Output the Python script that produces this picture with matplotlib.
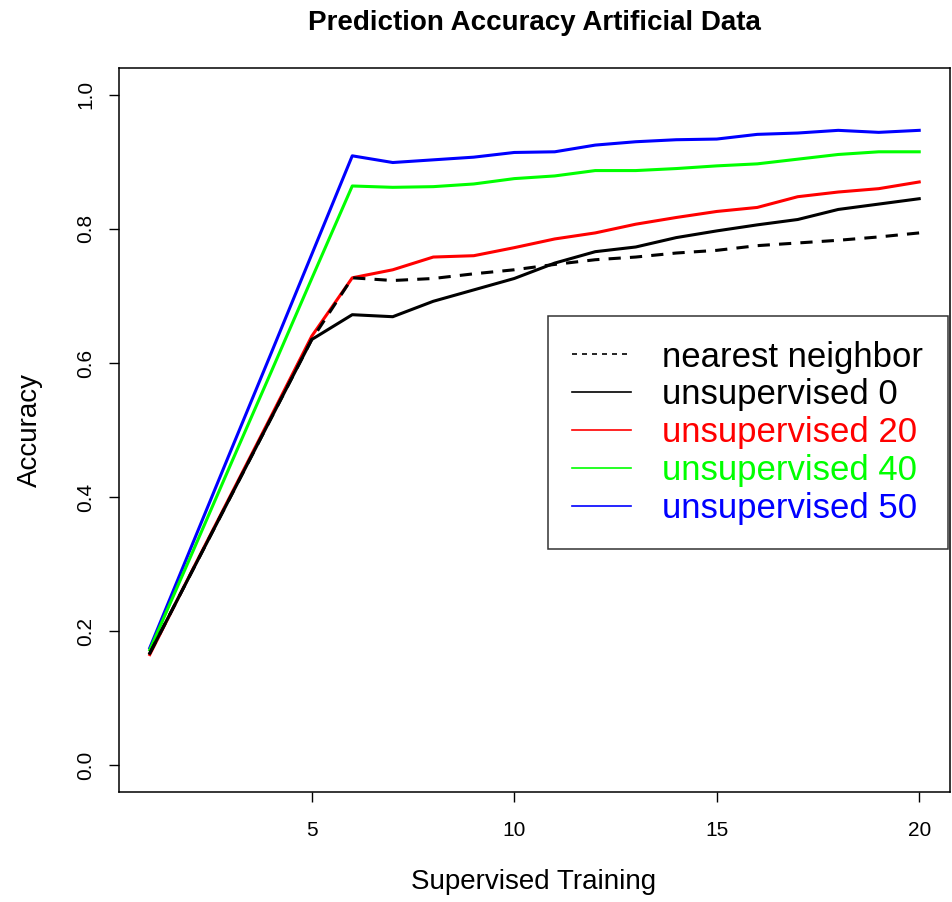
import matplotlib
matplotlib.use('Agg')
import matplotlib.pyplot as plt
from matplotlib.lines import Line2D

plt.rcParams['font.family'] = ['Liberation Sans', 'DejaVu Sans']

# supervised training steps
training = list(range(1, 21))

nearest = [0.167, 0.284, 0.401, 0.518, 0.635, 0.727, 0.723, 0.726, 0.733, 0.739,
           0.747, 0.754, 0.758, 0.764, 0.768, 0.775, 0.779, 0.783, 0.788, 0.794]
unsup_0 = [0.167, 0.284, 0.401, 0.518, 0.635, 0.672, 0.669, 0.692, 0.709, 0.726,
           0.749, 0.766, 0.773, 0.787, 0.797, 0.806, 0.814, 0.829, 0.837, 0.845]
unsup_20 = [0.165, 0.285, 0.403, 0.521, 0.640, 0.727, 0.739, 0.758, 0.760, 0.772,
            0.785, 0.794, 0.807, 0.817, 0.826, 0.832, 0.848, 0.855, 0.860, 0.870]
unsup_40 = [0.172, 0.310, 0.449, 0.587, 0.726, 0.864, 0.862, 0.863, 0.867, 0.875,
            0.879, 0.887, 0.887, 0.890, 0.894, 0.897, 0.904, 0.911, 0.915, 0.915]
unsup_50 = [0.175, 0.322, 0.469, 0.615, 0.762, 0.909, 0.899, 0.903, 0.907, 0.914,
            0.915, 0.925, 0.930, 0.933, 0.934, 0.941, 0.943, 0.947, 0.944, 0.947]

labels = ['nearest neighbor', 'unsupervised 0', 'unsupervised 20',
          'unsupervised 40', 'unsupervised 50']
colors = ['black', 'black', '#ff0000', '#00ff00', '#0000ff']

fig = plt.figure(figsize=(9.52, 9.02), dpi=100)
ax = fig.add_axes([119/952, 1-792/902, 831/952, 724/902])

lw = 2.2
ax.plot(training, unsup_50, color=colors[4], lw=lw)
ax.plot(training, unsup_40, color=colors[3], lw=lw)
ax.plot(training, unsup_20, color=colors[2], lw=lw)
ax.plot(training, unsup_0, color=colors[1], lw=lw)
ax.plot(training, nearest, color=colors[0], lw=lw, dashes=(4, 3))

ax.set_xlim(0.24, 20.76)
ax.set_ylim(-0.04, 1.04)
ax.set_xticks([5, 10, 15, 20])
ax.set_yticks([0.0, 0.2, 0.4, 0.6, 0.8, 1.0])
ax.set_yticklabels(['0.0', '0.2', '0.4', '0.6', '0.8', '1.0'], rotation=90, va='center')
ax.tick_params(axis='both', direction='out', length=7, width=1, labelsize=15)
ax.tick_params(axis='x', pad=14)
ax.tick_params(axis='y', pad=10)
for s in ax.spines.values():
    s.set_linewidth(1.1)

ax.set_title('Prediction Accuracy Artificial Data', fontsize=20, fontweight='bold', pad=27)
fig.text(534/952, 1-882/902, 'Supervised Training', fontsize=20, ha='center', va='center')
fig.text(30/952, 1-430/902, 'Accuracy', fontsize=20, rotation=90, ha='center', va='center')

handles = [Line2D([], [], color=colors[0], lw=1.2, dashes=(3, 3)),
           Line2D([], [], color=colors[1], lw=1.2),
           Line2D([], [], color=colors[2], lw=1.2),
           Line2D([], [], color=colors[3], lw=1.2),
           Line2D([], [], color=colors[4], lw=1.2)]
leg = ax.legend(handles, labels, loc='upper left', bbox_to_anchor=(0.516, 0.657),
                fontsize=25, labelcolor=colors, frameon=True, fancybox=False,
                edgecolor='black', handlelength=1.7, handletextpad=0.9,
                labelspacing=0.14, borderpad=0.7, borderaxespad=0)
leg.get_frame().set_linewidth(1.1)

fig.savefig('out.png', dpi=100)
